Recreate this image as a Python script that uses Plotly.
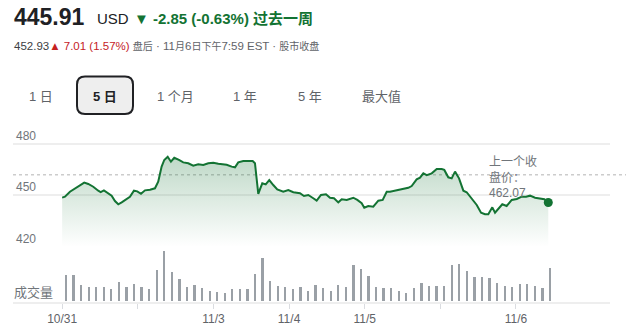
import plotly.graph_objects as go

W, H = 626, 331

# ---------------- data ----------------
# time position in 30-minute bar units (bar 0 = first half hour on 10/31)
t_price = [-0.5, -0.13, 0.53, 1.19, 1.85, 2.42, 2.95, 3.61, 4.27, 4.59, 5.02, 5.59, 6.04, 6.48,
           6.92, 7.37, 7.89, 8.46, 8.99, 9.43, 9.92, 10.45, 11.11, 11.77, 12.20, 12.65, 13.00,
           13.45, 13.88, 14.32, 14.94, 15.51, 16.17, 16.83, 17.49, 18.16, 18.82, 19.48, 20.14,
           21.25, 21.91, 22.35, 22.78, 23.44, 24.11, 24.69, 24.99, 25.22, 25.43, 25.65, 25.96,
           26.41, 26.88, 27.41, 27.94, 28.73, 29.40, 30.06, 30.94, 31.47, 32.04, 32.70, 33.15,
           33.72, 34.38, 34.91, 35.44, 36.01, 36.46, 37.12, 37.99, 38.52, 39.10, 39.44, 39.97,
           40.63, 41.30, 41.88, 42.41, 42.84, 43.50, 44.39, 45.26, 45.71, 46.37, 46.81, 47.25,
           47.70, 48.36, 49.02, 49.68, 50.02, 50.55, 51.00, 51.44, 51.97, 52.54, 52.98, 53.65,
           54.31, 54.88, 55.40, 55.84, 56.37, 56.73, 57.16, 57.69, 58.27, 58.94, 59.60, 60.26,
           60.83, 61.36, 62.02, 62.68, 63.25, 63.77]
price = [448.76, 449.3, 452.2, 454.2, 456.1, 457.5, 456.7, 455.1, 452.8, 452.0, 453.0, 451.3,
         449.9, 446.8, 444.9, 446.0, 447.8, 449.3, 452.8, 452.4, 451.0, 453.0, 453.4, 454.2,
         458.0, 466.8, 470.7, 472.6, 469.7, 472.0, 470.7, 469.3, 468.8, 467.4, 468.2, 467.8,
         468.8, 469.1, 468.5, 467.9, 466.8, 466.4, 469.3, 470.1, 470.1, 470.1, 468.8, 459.0,
         450.9, 453.6, 457.1, 456.5, 459.0, 456.1, 453.6, 452.2, 453.2, 451.9, 451.3, 449.7,
         450.3, 448.4, 447.0, 450.3, 450.7, 448.7, 448.4, 446.0, 447.8, 447.4, 448.7, 447.4,
         445.5, 442.9, 443.9, 443.5, 447.0, 447.4, 452.2, 452.2, 452.8, 453.8, 454.5, 455.5,
         459.4, 460.4, 462.9, 461.9, 462.9, 465.4, 465.4, 464.9, 460.6, 460.0, 463.9, 460.0,
         452.8, 451.9, 448.4, 444.5, 440.0, 439.1, 439.1, 443.1, 440.0, 442.0, 444.9, 443.9,
         447.4, 448.0, 449.3, 449.3, 449.9, 448.7, 448.4, 447.8, 445.91]

volume = [80, 78, 50, 42, 44, 44, 37, 59, 42, 52, 44, 37, 95, 150, 89, 68, 43, 50, 39, 32,
          29, 24, 37, 37, 37, 83, 129, 60, 45, 44, 36, 44, 30, 48, 40, 32, 48, 42, 110, 96,
          77, 43, 41, 40, 32, 24, 41, 55, 47, 47, 46, 110, 113, 90, 74, 74, 71, 56, 47, 42,
          53, 52, 47, 41, 101]
bar_index = list(range(len(volume)))

tick_vals = [-0.5, 9.5, 19.5, 29.5, 39.5, 49.5, 59.5]
tick_text = ["10/31", "", "11/3", "11/4", "11/5", "", "11/6"]
price_ticks = [420, 450, 480]
prev_close = 462.07

GREEN = "#137333"
GREY = "#70757a"
DARK = "#202124"


def px(x):
    return x / W


def py(y):
    return 1 - y / H


fig = go.Figure()

fig.add_trace(go.Scatter(
    x=t_price, y=price, mode="lines",
    line=dict(color=GREEN, width=2),
    fill="tozeroy",
    fillgradient=dict(type="vertical",
                      colorscale=[[0, "rgba(19,115,51,0.0)"], [1, "rgba(19,115,51,0.27)"]],
                      start=420, stop=472),
    xaxis="x", yaxis="y", hoverinfo="skip", showlegend=False))

fig.add_trace(go.Scatter(
    x=[t_price[-1]], y=[price[-1]], mode="markers",
    marker=dict(size=9, color=GREEN),
    xaxis="x", yaxis="y", hoverinfo="skip", showlegend=False))

fig.add_trace(go.Bar(
    x=bar_index, y=volume, width=0.3,
    marker=dict(color="#9aa0a6", line=dict(width=0)),
    xaxis="x", yaxis="y2", hoverinfo="skip", showlegend=False))

FONT = "Arial, 'Liberation Sans', 'Noto Sans CJK SC', sans-serif"

Y_TOP = 494  # top of price range, so the 480 label fits above its gridline
fig.update_layout(
    width=W, height=H, autosize=False,
    margin=dict(l=0, r=0, t=0, b=0),
    paper_bgcolor="white", plot_bgcolor="white",
    font=dict(family=FONT),
    bargap=0,
    xaxis=dict(domain=[px(13), px(610)], range=[-7.0, 71.93], anchor="y2",
               tickvals=tick_vals, ticktext=tick_text, ticks="outside", ticklen=5,
               tickcolor="#dadce0", tickwidth=1,
               showline=True, linecolor="#eeeeee", linewidth=2,
               showgrid=False, zeroline=False,
               tickfont=dict(size=12, color="#5f6368", family=FONT)),
    yaxis=dict(domain=[py(247), py(247 - (Y_TOP - 420) * 1.7167)], range=[420, Y_TOP], anchor="x",
               tickvals=price_ticks, ticklabelposition="inside top",
               showgrid=True, gridcolor="#eeeeee", gridwidth=2,
               zeroline=False, showline=False, ticks="",
               tickfont=dict(size=12, color=GREY, family=FONT)),
    yaxis2=dict(domain=[py(301.7), py(248.4)], range=[0, 160], anchor="x",
                showgrid=False, showticklabels=False, zeroline=False, showline=False),
)

# previous close dashed line
fig.add_shape(type="line", xref="paper", yref="y", x0=px(13), x1=1.0,
              y0=prev_close, y1=prev_close,
              line=dict(color="#cccccc", width=1.5, dash="3px,3px"), layer="below")

ann = []
# header
ann.append(dict(text="<b>445.91</b>", x=px(12), y=py(17), xanchor="left", yanchor="middle",
                font=dict(size=23, color=DARK)))
ann.append(dict(text="USD", x=px(95), y=py(19), xanchor="left", yanchor="middle",
                font=dict(size=15, color=DARK)))
ann.append(dict(text="<b>▼ -2.85 (-0.63%) 过去一周</b>", x=px(132), y=py(19),
                xanchor="left", yanchor="middle", font=dict(size=15, color=GREEN)))
CJ = "<span style='font-size:10px'>"
ann.append(dict(text=("<span style='color:#3c4043'>452.93</span>"
                      "<span style='color:#c5221f'>▲ 7.01 (1.57%)</span>"
                      f"<span style='color:#5f6368'> {CJ}盘后</span> · 11{CJ}月</span>6{CJ}日下午</span>"
                      f"7:59 EST · {CJ}股市收盘</span></span>"),
                x=px(12), y=py(46), xanchor="left", yanchor="middle",
                font=dict(size=11.5, color="#5f6368")))

# range buttons
buttons = [("1 日", 41), ("5 日", 105), ("1 个月", 175), ("1 年", 245), ("5 年", 309.5), ("最大值", 381)]
for label, cx in buttons:
    sel = label == "5 日"
    ann.append(dict(text=f"<b>{label}</b>" if sel else label, x=px(cx), y=py(96),
                    xanchor="center", yanchor="middle",
                    font=dict(size=13, color=DARK if sel else "#5f6368")))

# previous close label
ann.append(dict(text="上一个收<br>盘价：<br>462.07", x=px(487), y=py(153), xanchor="left",
                yanchor="top", align="left", font=dict(size=12, color=GREY)))
# volume label
ann.append(dict(text="成交量", x=px(12), y=py(302), xanchor="left", yanchor="bottom",
                font=dict(size=13, color=GREY), bgcolor="white"))

for a in ann:
    a.update(xref="paper", yref="paper", showarrow=False)
fig.update_layout(annotations=ann)

# selected button box with rounded corners
x0, x1, y0, y1, r = 77, 133, 76.5, 114, 8
path = (f"M {px(x0 + r)} {py(y0)} L {px(x1 - r)} {py(y0)} Q {px(x1)} {py(y0)} {px(x1)} {py(y0 + r)} "
        f"L {px(x1)} {py(y1 - r)} Q {px(x1)} {py(y1)} {px(x1 - r)} {py(y1)} "
        f"L {px(x0 + r)} {py(y1)} Q {px(x0)} {py(y1)} {px(x0)} {py(y1 - r)} "
        f"L {px(x0)} {py(y0 + r)} Q {px(x0)} {py(y0)} {px(x0 + r)} {py(y0)} Z")
fig.add_shape(type="path", xref="paper", yref="paper", path=path,
              fillcolor="#eeeeee", line=dict(color=DARK, width=2), layer="below")

fig.write_html("out.html")
